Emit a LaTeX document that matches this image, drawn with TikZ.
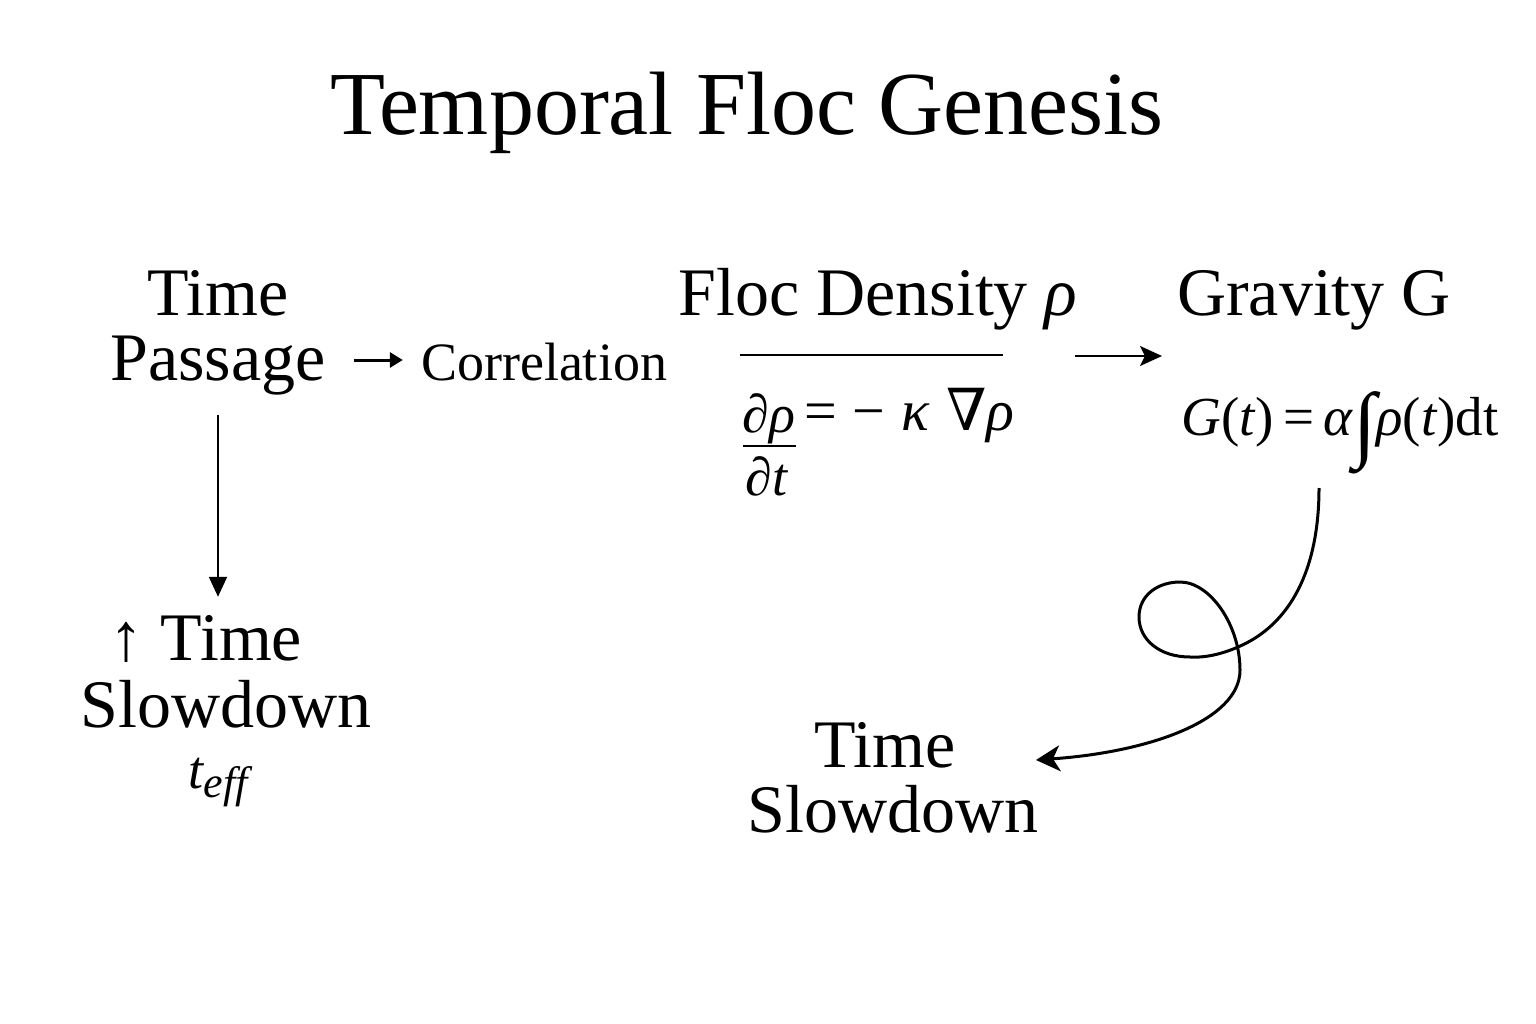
\documentclass[tikz,border=0pt]{standalone}
\usepackage{fontspec}
\setmainfont{Liberation Serif}
\newfontfamily\dvs{DejaVu Serif}
\usetikzlibrary{arrows.meta,calc}
\begin{document}
\begin{tikzpicture}[x=1pt,y=-1pt,
  lab/.style={font=\fontsize{68}{78}\selectfont,inner sep=0pt,anchor=base},
  mid/.style={font=\fontsize{54}{64}\selectfont,inner sep=0pt,anchor=base},
  frm/.style={font=\fontsize{55}{64}\selectfont,inner sep=0pt,anchor=base},
  conn/.style={line width=2.2pt},
  curv/.style={line width=3pt},
]
\fill[white] (0,0) rectangle (1536,1024);
\useasboundingbox (0,0) rectangle (1536,1024);

% title
\node[inner sep=0pt,anchor=base,font=\fontsize{90}{100}\selectfont] (title) at (747,135) {Temporal Floc Genesis};

% left column
\node[lab] (time1) at (218,315) {Time};
\node[lab] (passage) at (218,380) {Passage};
\node[mid] (corr) at (544,380) {Correlation};
\draw[line width=3pt,-{Triangle[length=13pt,width=15pt]}]
  ($(passage.base east)+(28,-20)$) -- ($(corr.base west)+(-18,-20)$);

\node[lab] (uptime) at (206,660) {↑ Time};
\node[lab] (slow) at (226,727) {Slowdown};
\node[mid] (teff) at (218,788) {\itshape t\raisebox{-9pt}{\fontsize{44}{44}\selectfont eff}};

\draw[conn,-{Triangle[length=20pt,width=18pt]},shorten >=18pt] (passage.south) ++(0,20) coordinate (va) -- (uptime.north -| va);

% floc density
\node[lab] (floc) at (878,315) {Floc Density \textit{ρ}};
\coordinate (bl) at (740,355);
\coordinate (br) at (1003,355);
\draw[conn] (bl) -- (br);
\node[mid] (dp) at (769,432) {\textit{∂ρ}};
\node[mid] (dt) at (767,495) {\textit{∂t}};
\draw[conn] (dp.south west) ++(0,2) coordinate (fl) -- (fl -| dp.south east);
\node[inner sep=0pt,anchor=base west,font=\fontsize{58}{64}\selectfont] (eqr) at (804,430) {=\;−\;\textit{κ}\;{\dvs ∇}\textit{ρ}};

% gravity
\coordinate (ha) at (1075,356);
\coordinate (hb) at (1162,356);
\draw[conn,-{Stealth[length=22pt,width=20pt,inset=5pt]}] (ha) -- (hb);
\node[lab] (grav) at (1314,315) {Gravity G};
\node[frm] (gform) at (1340,435) {\textit{G}(\textit{t})\,=\,\textit{α}\raisebox{-16pt}{\fontsize{84}{84}\selectfont\itshape ∫}\textit{ρ}(\textit{t})dt};

% bottom time slowdown
\node[lab] (bt) at (885,767) {Time};
\node[lab] (bslow) at (893,832) {Slowdown};

\coordinate (cs) at (1319,488);
\coordinate (tip) at (1036,760);
\draw[curv,-{Stealth[length=24pt,width=26pt,inset=7pt]}] (cs)
  .. controls (1319,570) and (1290,625) .. (1238,647)
  .. controls (1222,654) and (1205,658) .. (1190,657)
  .. controls (1160,657) and (1139,640) .. (1139,617)
  .. controls (1139,595) and (1158,582) .. (1180,582)
  .. controls (1210,582) and (1240,625) .. (1240,670)
  .. controls (1240,720) and (1150,752) .. (tip);
\end{tikzpicture}
\end{document}
